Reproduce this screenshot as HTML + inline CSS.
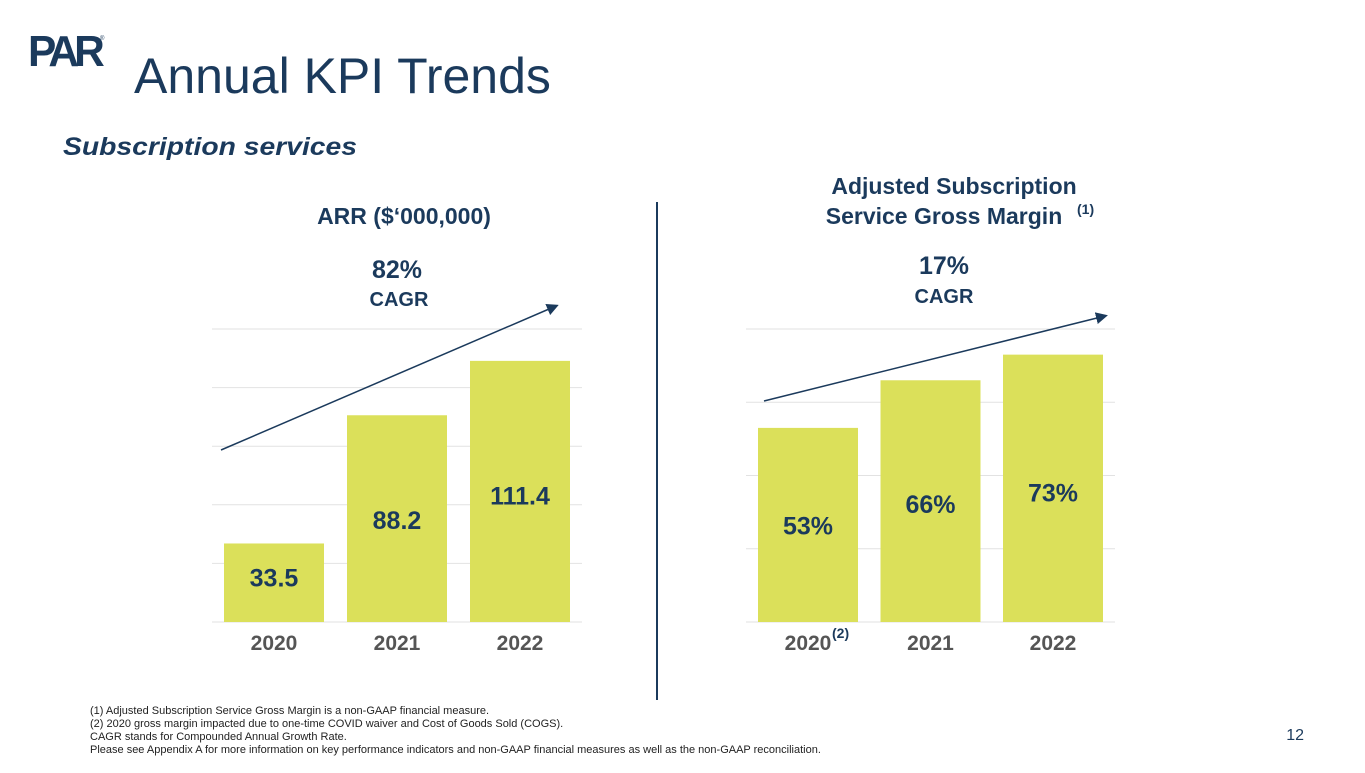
<!DOCTYPE html>
<html><head><meta charset="utf-8"><style>
body{margin:0;width:1365px;height:768px;background:#fff;overflow:hidden;font-family:"Liberation Sans",Arial,sans-serif;}
svg text{font-family:"Liberation Sans",Arial,sans-serif;}
</style></head><body>
<svg width="1365" height="768" viewBox="0 0 1365 768">
<text x="28" y="66" font-size="44" font-weight="bold" fill="#1b3a5c" letter-spacing="-5" textLength="72" lengthAdjust="spacingAndGlyphs">PAR</text>
<text x="100" y="40" font-size="6" fill="#1b3a5c">®</text>
<text x="134" y="93" font-size="50" fill="#1b3a5c">Annual KPI Trends</text>
<text x="63" y="155" font-size="25" font-weight="bold" font-style="italic" fill="#1b3a5c" textLength="294" lengthAdjust="spacingAndGlyphs">Subscription services</text>
<text x="404" y="224" font-size="23" font-weight="bold" fill="#1b3a5c" text-anchor="middle">ARR ($‘000,000)</text>
<text x="397" y="278" font-size="25" font-weight="bold" fill="#1b3a5c" text-anchor="middle">82%</text>
<text x="399" y="306" font-size="20" font-weight="bold" fill="#1b3a5c" text-anchor="middle">CAGR</text>
<text x="954" y="194" font-size="23" font-weight="bold" fill="#1b3a5c" text-anchor="middle">Adjusted Subscription</text>
<text x="944" y="224" font-size="23" font-weight="bold" fill="#1b3a5c" text-anchor="middle">Service Gross Margin</text>
<text x="1077" y="214" font-size="14" font-weight="bold" fill="#1b3a5c">(1)</text>
<text x="944" y="274" font-size="25" font-weight="bold" fill="#1b3a5c" text-anchor="middle">17%</text>
<text x="944" y="303" font-size="20" font-weight="bold" fill="#1b3a5c" text-anchor="middle">CAGR</text>
<line x1="657" y1="202" x2="657" y2="700" stroke="#1b3a5c" stroke-width="2"/>
<g id="c1"></g><g id="c2"></g>
<defs><marker id="ah" markerWidth="8" markerHeight="8" refX="6" refY="4" orient="auto"><path d="M0,0L8,4L0,8z" fill="#1b3a5c"/></marker></defs>
<line x1="221" y1="450" x2="556" y2="306" stroke="#1b3a5c" stroke-width="1.5" marker-end="url(#ah)"/>
<line x1="764" y1="401" x2="1105" y2="316" stroke="#1b3a5c" stroke-width="1.5" marker-end="url(#ah)"/>
<text x="832" y="638" font-size="14" font-weight="bold" fill="#1b3a5c">(2)</text>
<g font-size="11" fill="#222">
<text x="90" y="714">(1) Adjusted Subscription Service Gross Margin is a non-GAAP financial measure.</text>
<text x="90" y="727">(2) 2020 gross margin impacted due to one-time COVID waiver and Cost of Goods Sold (COGS).</text>
<text x="90" y="740">CAGR stands for Compounded Annual Growth Rate.</text>
<text x="90" y="753">Please see Appendix A for more information on key performance indicators and non-GAAP financial measures as well as the non-GAAP reconciliation.</text>
</g>
<text x="1304" y="740" font-size="16" fill="#1b3a5c" text-anchor="end">12</text>
</svg>
<script>
const categories=["2020","2021","2022"];
const arrValues=[33.5,88.2,111.4];
const arrLabels=["33.5","88.2","111.4"];
const marginValues=[53,66,73];
const marginLabels=["53%","66%","73%"];
const arrMax=125, arrTicks=[0,25,50,75,100,125];
const marginMax=80, marginTicks=[0,20,40,60,80];
const NS="http://www.w3.org/2000/svg";
function mk(p,t,a){const e=document.createElementNS(NS,t);for(const k in a)e.setAttribute(k,a[k]);p.appendChild(e);return e;}
function chart(g,vals,labels,max,ticks,xStart,step,prefix){
  const top=329,base=622,bw=100;
  const y=v=>base-(v/max)*(base-top);
  ticks.forEach(t=>{const l=mk(g,'line',{x1:xStart-12,x2:xStart+2*step+bw+12,y1:y(t),y2:y(t),stroke:'#e2e2e2','stroke-width':1});
    
    });
  vals.forEach((v,i)=>{
    const x=xStart+step*i, cx=x+bw/2;
    const r=mk(g,'rect',{x:x,y:y(v),width:bw,height:base-y(v),fill:'#dbe05a'});
    
    
    const h=base-y(v);
    const t=mk(g,'text',{x:cx,y:Math.min(base-0.45*h,base-30),'font-size':25,'font-weight':'bold',fill:'#1b3a5c','text-anchor':'middle'});
    t.textContent=labels[i];
    
    
    const c=mk(g,'text',{x:cx,y:650,'font-size':21,'font-weight':'bold',fill:'#555','text-anchor':'middle'});
    c.textContent=categories[i];
    
    
  });
}
chart(document.getElementById('c1'),arrValues,arrLabels,arrMax,arrTicks,224,123,'arr');
chart(document.getElementById('c2'),marginValues,marginLabels,marginMax,marginTicks,758,122.5,'margin');
</script>
</body></html>
